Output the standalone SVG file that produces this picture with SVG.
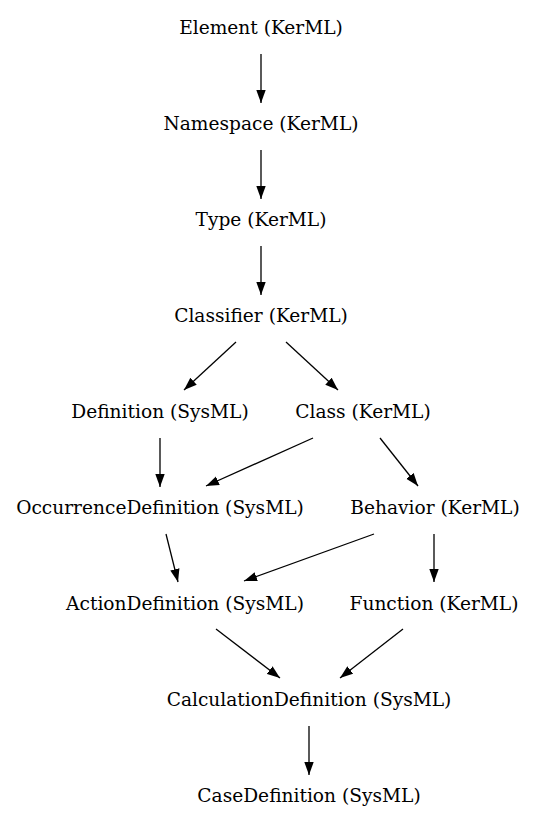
<svg xmlns="http://www.w3.org/2000/svg" width="535" height="827" viewBox="0 0 535 827">
<defs>
<marker id="ah" markerWidth="13" markerHeight="10" refX="13" refY="5" orient="auto" markerUnits="userSpaceOnUse">
<path d="M0,0.3 L13,5 L0,9.7 Z" fill="#000"/>
</marker>
<style>
text{font-family:"DejaVu Serif","Liberation Serif",serif;font-size:18.6px;fill:#000;text-anchor:middle}
.e line{stroke:#000;stroke-width:1.3;marker-end:url(#ah)}
</style>
</defs>
<rect width="535" height="827" fill="#fff"/>
<g class="e" id="edges">
<line x1="261" y1="54" x2="261" y2="103"/>
<line x1="261" y1="150" x2="261" y2="199"/>
<line x1="261" y1="246" x2="261" y2="295"/>
<line x1="236" y1="342" x2="184" y2="390"/>
<line x1="286" y1="342" x2="338" y2="390"/>
<line x1="160" y1="438" x2="160" y2="487"/>
<line x1="313" y1="438" x2="206" y2="486"/>
<line x1="380" y1="438" x2="418" y2="486"/>
<line x1="166" y1="534" x2="178" y2="582"/>
<line x1="374" y1="534" x2="244" y2="581"/>
<line x1="434" y1="534" x2="434" y2="582"/>
<line x1="216" y1="629" x2="280" y2="678"/>
<line x1="403" y1="629" x2="340" y2="678"/>
<line x1="309" y1="726" x2="309" y2="775"/>
</g>
<g id="n1"><text x="261" y="34">Element (KerML)</text></g>
<g id="n2"><text x="261" y="130">Namespace (KerML)</text></g>
<g id="n3"><text x="261" y="226">Type (KerML)</text></g>
<g id="n4"><text x="261" y="322">Classifier (KerML)</text></g>
<g id="n5"><text x="160" y="418">Definition (SysML)</text></g>
<g id="n6"><text x="363" y="418">Class (KerML)</text></g>
<g id="n7"><text x="160" y="514">OccurrenceDefinition (SysML)</text></g>
<g id="n8"><text x="435" y="514">Behavior (KerML)</text></g>
<g id="n9"><text x="185" y="610">ActionDefinition (SysML)</text></g>
<g id="n10"><text x="434" y="610">Function (KerML)</text></g>
<g id="n11"><text x="309" y="706">CalculationDefinition (SysML)</text></g>
<g id="n12"><text x="309" y="802">CaseDefinition (SysML)</text></g>
</svg>
